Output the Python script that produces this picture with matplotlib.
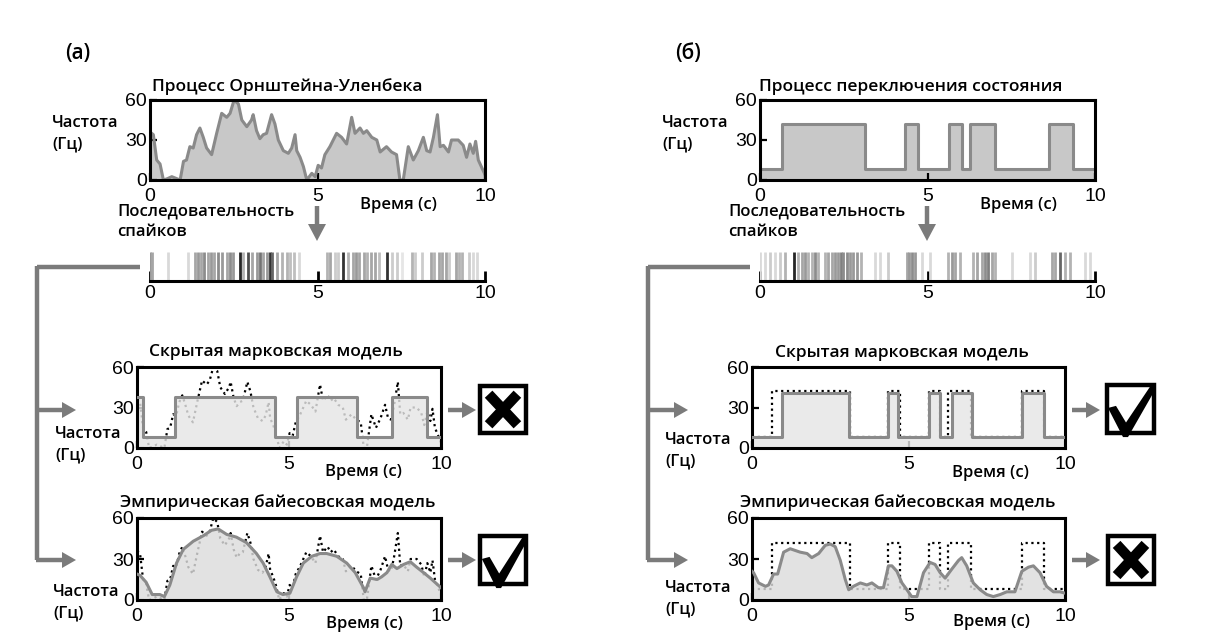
import matplotlib
matplotlib.use('Agg')
import matplotlib.pyplot as plt
from matplotlib.patches import Rectangle, Polygon
import numpy as np

W, H = 1217, 643
plt.rcParams['font.family'] = ['Liberation Sans', 'DejaVu Sans']

# ---------------- data ----------------
# (а) Ornstein-Uhlenbeck true rate
ou_t = [0.0, 0.10, 0.20, 0.30, 0.40, 0.52, 0.65, 0.80, 0.90, 1.00, 1.09, 1.19, 1.29, 1.39,
        1.49, 1.59, 1.69, 1.84, 1.99, 2.14, 2.29, 2.39, 2.51, 2.64, 2.74, 2.89, 3.03, 3.08,
        3.18, 3.28, 3.38, 3.48, 3.63, 3.73, 3.83, 3.98, 4.13, 4.23, 4.33, 4.38, 4.48, 4.58,
        4.68, 4.83, 4.93, 5.02, 5.12, 5.22, 5.37, 5.57, 5.72, 5.87, 6.02, 6.12, 6.27, 6.37,
        6.47, 6.62, 6.77, 6.87, 7.06, 7.21, 7.36, 7.46, 7.56, 7.71, 7.86, 8.01, 8.16, 8.26,
        8.36, 8.46, 8.58, 8.66, 8.76, 8.91, 9.00, 9.20, 9.35, 9.45, 9.55, 9.65, 9.72, 9.80, 10.0]
ou_rate = [36, 34, 15, 12, 0, 1, 2.5, 1, 0, 14, 15, 25, 24, 34,
           39, 32, 24, 19, 35, 50, 47, 50, 60, 57, 45, 40, 45, 49,
           37, 31, 34, 35, 49, 42, 30, 22, 20, 24, 34, 22, 17, 10,
           0, 5, 2.5, 11, 9, 19, 25, 35, 32, 27, 47, 35, 39, 35,
           37, 32, 30, 21, 25, 21, 19, 0, 0, 25, 15, 22, 32, 22,
           21, 32, 49, 25, 26, 21, 30, 30, 26, 17, 27, 20, 29, 15, 4]

# (а) spike train
spikes_a = [0.0, 0.07, 0.55, 1.14, 1.34, 1.42, 1.51, 1.62, 1.72, 1.82, 1.92, 2.02, 2.16,
            2.29, 2.39, 2.49, 2.69, 2.79, 2.94, 3.05, 3.18, 3.28, 3.38, 3.48, 3.58, 3.65,
            3.78, 3.93, 4.08, 4.18, 4.31, 4.45, 5.27, 5.37, 5.52, 5.62, 5.77, 5.92, 6.07,
            6.14, 6.24, 6.39, 6.49, 6.59, 6.72, 6.84, 7.07, 7.21, 7.36, 7.51, 7.81, 7.91,
            8.13, 8.39, 8.48, 8.63, 8.73, 8.83, 8.93, 9.12, 9.21, 9.32, 9.52, 9.65, 9.77]
spikes_a_shade = [0.4, 0.35, 0.15, 0.15, 0.35, 0.4, 0.35, 0.45, 0.35, 0.4, 0.35, 0.45, 0.4,
                  0.35, 0.45, 0.4, 0.85, 0.3, 0.7, 0.35, 0.4, 0.55, 0.35, 0.4, 0.8, 0.6,
                  0.35, 0.3, 0.3, 0.25, 0.25, 0.15, 0.3, 0.35, 0.2, 0.2, 0.8, 0.3, 0.35,
                  0.4, 0.35, 0.35, 0.3, 0.35, 0.35, 0.25, 0.8, 0.2, 0.2, 0.1, 0.3, 0.2,
                  0.2, 0.35, 0.3, 0.35, 0.35, 0.35, 0.2, 0.35, 0.3, 0.3, 0.2, 0.15, 0.15]

# (а) HMM estimate (step function)
hmm_a_t = [0, 0.2, 1.24, 4.54, 5.25, 7.23, 8.38, 9.54, 10]
hmm_a_rate = [38, 8, 38, 8, 38, 8, 38, 8, 8]

# (а) empirical Bayes estimate
eb_a_t = [0.0, 0.1, 0.3, 0.5, 0.75, 0.9, 1.08, 1.3, 1.52, 1.85, 2.18, 2.45, 2.67, 2.95,
          3.27, 3.6, 3.93, 4.15, 4.37, 4.6, 4.8, 5.03, 5.25, 5.47, 5.75, 6.02, 6.24, 6.57,
          6.9, 7.18, 7.45, 7.5, 7.67, 7.9, 8.05, 8.22, 8.38, 8.55, 8.77, 8.99, 9.2, 9.43,
          9.65, 10.0]
eb_a_rate = [19, 18, 13, 4, 4, 2.5, 11, 27, 37, 43, 47, 51, 52, 48,
             46, 42, 34, 27, 17, 6, 4, 5, 17, 27, 32, 34, 34, 32,
             27, 20, 9, 6, 16, 15, 17, 20, 26, 23, 26, 28, 24, 20,
             16, 9]

# (б) state-switching true rate
sw_t = [0, 0.65, 3.13, 4.33, 4.73, 5.65, 6.02, 6.27, 7.0, 8.64, 9.33, 10]
sw_rate = [8, 42, 8, 42, 8, 42, 8, 42, 8, 42, 8, 8]

# (б) spike train
spikes_b = [0.0, 0.15, 0.30, 0.45, 0.60, 0.75, 1.02, 1.14, 1.24, 1.34, 1.44, 1.54, 1.64,
            1.74, 1.94, 2.04, 2.14, 2.24, 2.34, 2.42, 2.49, 2.59, 2.69, 2.79, 2.89, 3.02,
            3.43, 3.58, 3.83, 4.38, 4.45, 4.53, 4.63, 4.83, 5.07, 5.62, 5.72, 5.82, 5.97,
            6.37, 6.47, 6.62, 6.72, 6.82, 6.92, 7.01, 7.51, 8.06, 8.21, 8.71, 8.81, 8.96,
            9.10, 9.25, 9.70, 9.85]
spikes_b_shade = [0.15, 0.15, 0.2, 0.15, 0.2, 0.3, 0.85, 0.3, 0.35, 0.4, 0.3, 0.3, 0.45,
                  0.3, 0.3, 0.35, 0.35, 0.4, 0.4, 0.5, 0.45, 0.45, 0.4, 0.4, 0.4, 0.3,
                  0.15, 0.15, 0.2, 0.35, 0.4, 0.45, 0.4, 0.15, 0.15, 0.3, 0.4, 0.35, 0.3,
                  0.3, 0.35, 0.35, 0.45, 0.5, 0.35, 0.3, 0.15, 0.15, 0.2, 0.35, 0.35, 0.6,
                  0.3, 0.3, 0.15, 0.15]

# (б) HMM estimate
hmm_b_t = [0, 0.96, 3.09, 4.36, 4.68, 5.66, 6.01, 6.38, 7.02, 8.62, 9.34, 10]
hmm_b_rate = [8, 41, 8, 41, 8, 41, 8, 41, 8, 41, 8, 8]

# (б) empirical Bayes estimate
eb_b_t = [0.0, 0.05, 0.21, 0.43, 0.53, 0.69, 0.82, 1.01, 1.22, 1.54, 1.76, 1.91, 2.13,
          2.34, 2.5, 2.66, 2.82, 2.98, 3.09, 3.24, 3.46, 3.67, 3.83, 4.04, 4.2, 4.36, 4.47,
          4.63, 4.79, 4.95, 5.1, 5.27, 5.48, 5.69, 5.85, 6.01, 6.17, 6.38, 6.6, 6.7, 6.86,
          7.07, 7.29, 7.5, 7.71, 7.93, 8.14, 8.4, 8.62, 8.83, 8.99, 9.2, 9.41, 9.63, 9.84, 10.0]
eb_b_rate = [21, 20, 12.5, 10, 11, 19, 19, 35, 37.5, 35, 34, 31, 34,
             40, 41, 39, 29, 15, 7.5, 10, 12.5, 11, 12.5, 9, 9, 25, 25,
             21, 12.5, 7.5, 2.5, 2.5, 20, 27.5, 26, 20, 16, 22.5, 29, 31, 25,
             12.5, 7.5, 4, 2.5, 4, 6, 6, 21, 24, 25, 20, 10, 6, 6, 5]

x_ticks = [0, 5, 10]
y_ticks = [0, 30, 60]

# ---------------- styles ----------------
TFONT = dict(family=['Open Sans', 'DejaVu Sans'], weight='semibold')
GRAY = '#7b7b7b'
LINE = '#8a8a8a'

fig = plt.figure(figsize=(W / 100, H / 100), dpi=100)

# overlay in pixel coords
ov = fig.add_axes([0, 0, 1, 1], zorder=-1)
ov.set_xlim(0, W)
ov.set_ylim(H, 0)
ov.axis('off')


def ax_px(x0, y0, x1, y1, **kw):
    return fig.add_axes([x0 / W, 1 - y1 / H, (x1 - x0) / W, (y1 - y0) / H], **kw)


def ftext(x, y, s, size=12.5, ha='left', va='center', **kw):
    d = dict(TFONT)
    d.update(kw)
    ov.text(x, y, s, fontsize=size, ha=ha, va=va, **d)


def style(ax):
    ax.set_xlim(0, 10)
    ax.set_ylim(0, 60)
    ax.set_xticks(x_ticks)
    ax.set_yticks(y_ticks)
    ax.tick_params(direction='in', length=5, width=1.6, labelsize=14, colors='black')
    ax.tick_params(axis='x', pad=5.5)
    ax.tick_params(axis='y', pad=2)
    for s in ax.spines.values():
        s.set_linewidth(2.2)


def ylab(x, y):
    ftext(x, y, 'Частота', size=12)
    ftext(x, y + 21, '(Гц)', size=12)


def hline_arrow(x0, x1, y, hw=8, hl=14, lw=3.2):
    ov.plot([x0, x1 - hl + 1], [y, y], color=GRAY, lw=lw, solid_capstyle='butt')
    ov.add_patch(Polygon([[x1 - hl, y - hw], [x1, y], [x1 - hl, y + hw]], closed=True,
                         color=GRAY, lw=0))


def vline_arrow(x, y0, y1, hw=9, hl=17, lw=3.2):
    ov.plot([x, x], [y0, y1 - hl + 1], color=GRAY, lw=lw, solid_capstyle='butt')
    ov.add_patch(Polygon([[x - hw, y1 - hl], [x, y1], [x + hw, y1 - hl]], closed=True,
                         color=GRAY, lw=0))


def icon(x0, y0, x1, y1, kind):
    a = ax_px(x0, y0, x1, y1)
    a.set_xlim(0, 1)
    a.set_ylim(0, 1)
    a.axis('off')
    a.add_patch(Rectangle((0.03, 0.03), 0.94, 0.94, fill=False, lw=3.2, ec='black',
                          clip_on=False))
    if kind == 'x':
        a.plot([0.2, 0.8], [0.2, 0.8], color='black', lw=7.5, solid_capstyle='butt')
        a.plot([0.2, 0.8], [0.8, 0.2], color='black', lw=7.5, solid_capstyle='butt')
    else:
        a.add_patch(Polygon([[0.06, 0.52], [0.22, 0.56], [0.42, 0.24], [0.95, 1.0],
                             [1.02, 0.9], [0.46, -0.04], [0.36, -0.04]], closed=True,
                            color='black', lw=0, clip_on=False))


def top_panel(x0, x1, t, r, title, xl_off, steps=False):
    ax = ax_px(x0, 100, x1, 180)
    ds = 'steps-post' if steps else 'default'
    if steps:
        ax.fill_between(t, 0, r, step='post', color='#c8c8c8', lw=0)
    else:
        ax.fill_between(t, 0, r, color='#c8c8c8', lw=0)
    ax.plot(t, r, color=LINE, lw=2.2, drawstyle=ds)
    style(ax)
    ftext((x0 + x1) / 2 - 30 if not steps else (x0 + x1) / 2 - 17, 87, title, ha='center')
    ftext(x1 - xl_off, 205, 'Время (с)', size=12)
    return ax


def raster(x0, x1, times, shades):
    ax = ax_px(x0, 252, x1, 281)
    cols = [(1 - s, 1 - s, 1 - s) for s in shades]
    ax.vlines(times, 0, 1, colors=cols, lw=2.0)
    ax.set_xlim(0, 10)
    ax.set_ylim(0, 1)
    ax.set_xticks(x_ticks)
    ax.set_yticks([])
    for k in ['top', 'left', 'right']:
        ax.spines[k].set_visible(False)
    ax.spines['bottom'].set_linewidth(2.2)
    ax.tick_params(direction='in', length=7, width=2, labelsize=14, pad=3)
    return ax


def est_panel(x0, x1, y0, y1, true_t, true_r, true_steps, est_t, est_r, est_steps, fillc):
    ax = ax_px(x0, y0, x1, y1)
    ax.plot(true_t, true_r, color='black', lw=1.6, ls=(0, (1, 1.6)),
            drawstyle='steps-post' if true_steps else 'default', zorder=1)
    if est_steps:
        ax.fill_between(est_t, 0, est_r, step='post', color=fillc, alpha=0.82, lw=0, zorder=2)
    else:
        ax.fill_between(est_t, 0, est_r, color=fillc, alpha=0.82, lw=0, zorder=2)
    ax.plot(est_t, est_r, color=LINE, lw=2.2,
            drawstyle='steps-post' if est_steps else 'default', zorder=3)
    style(ax)
    return ax


# ---------------- panel (а) ----------------
ftext(78, 54, '(а)', size=15, ha='center')
top_panel(150, 485, ou_t, ou_rate, 'Процесс Орнштейна-Уленбека', 125)
ylab(52, 123)
ftext(117, 212, 'Последовательность', size=12)
ftext(117, 232, 'спайков', size=12)
vline_arrow(317, 206, 241)
raster(150, 485, spikes_a, spikes_a_shade)

ov.plot([37, 140], [267, 267], color=GRAY, lw=3.2, solid_capstyle='butt')
ov.plot([37, 37], [265.5, 560], color=GRAY, lw=3.2, solid_capstyle='butt')
hline_arrow(35.5, 76, 410)
hline_arrow(35.5, 76, 560)

est_panel(137, 441, 367, 448, ou_t, ou_rate, False, hmm_a_t, hmm_a_rate, True, '#e6e6e6')
ftext(276, 352, 'Скрытая марковская модель', ha='center')
ylab(55, 434)
ftext(325, 472, 'Время (с)', size=12)
hline_arrow(448, 476, 410)
icon(479, 384, 527, 435, 'x')

est_panel(137, 441, 518, 600, ou_t, ou_rate, False, eb_a_t, eb_a_rate, False, '#dcdcdc')
ftext(278, 503, 'Эмпирическая байесовская модель', ha='center')
ylab(53, 592)
ftext(326, 624, 'Время (с)', size=12)
hline_arrow(448, 476, 560)
icon(479, 534, 527, 586, 'check')

# ---------------- panel (б) ----------------
ftext(688, 54, '(б)', size=15, ha='center')
top_panel(760, 1095, sw_t, sw_rate, 'Процесс переключения состояния', 115, steps=True)
ylab(662, 123)
ftext(728, 212, 'Последовательность', size=12)
ftext(728, 232, 'спайков', size=12)
vline_arrow(927, 206, 241)
raster(760, 1095, spikes_b, spikes_b_shade)

ov.plot([648, 750], [267, 267], color=GRAY, lw=3.2, solid_capstyle='butt')
ov.plot([648, 648], [265.5, 560], color=GRAY, lw=3.2, solid_capstyle='butt')
hline_arrow(646.5, 688, 410)
hline_arrow(646.5, 688, 560)

est_panel(752, 1065, 367, 448, sw_t, sw_rate, True, hmm_b_t, hmm_b_rate, True, '#e6e6e6')
ftext(902, 353, 'Скрытая марковская модель', ha='center')
ylab(665, 440)
ftext(952, 473, 'Время (с)', size=12)
hline_arrow(1072, 1100, 410)
icon(1105, 383, 1155, 435, 'check')

est_panel(752, 1065, 518, 600, sw_t, sw_rate, True, eb_b_t, eb_b_rate, False, '#dcdcdc')
ftext(898, 503, 'Эмпирическая байесовская модель', ha='center')
ylab(665, 588)
ftext(953, 622, 'Время (с)', size=12)
hline_arrow(1072, 1100, 560)
icon(1107, 534, 1155, 586, 'x')

fig.savefig('out.png', dpi=100)
